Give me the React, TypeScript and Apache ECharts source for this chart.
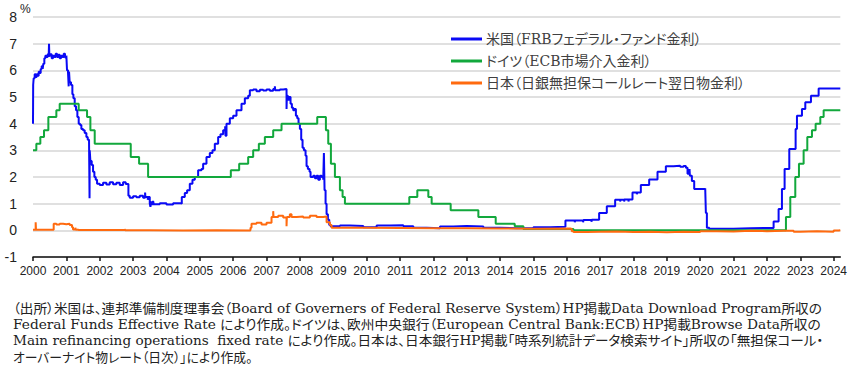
import React, { useEffect, useRef } from 'react';
import * as echarts from 'echarts';

const yearTicks = [2000, 2001, 2002, 2003, 2004, 2005, 2006, 2007, 2008, 2009, 2010, 2011, 2012, 2013, 2014, 2015, 2016, 2017, 2018, 2019, 2020, 2021, 2022, 2023, 2024];

const seriesNames = [
  '米国（FRBフェデラル・ファンド金利）',
  'ドイツ（ECB市場介入金利）',
  '日本（日銀無担保コールレート翌日物金利）',
];

// [decimal year, %] – value holds until the next point
const usFedFunds = [
  [2000.0, 4.0], [2000.005, 5.45], [2000.02, 5.7], [2000.05, 5.85], [2000.08, 5.75], [2000.11, 5.85], [2000.14, 5.8], [2000.17, 5.95], [2000.2, 5.9], [2000.23, 6.05], [2000.26, 6.15], [2000.29, 6.05], [2000.31, 6.25], [2000.34, 6.45], [2000.37, 6.55], [2000.4, 6.5], [2000.44, 6.6], [2000.47, 6.5], [2000.48, 7.0], [2000.49, 6.55], [2000.52, 6.6], [2000.56, 6.45], [2000.6, 6.55], [2000.64, 6.5], [2000.68, 6.62], [2000.72, 6.5], [2000.76, 6.58], [2000.8, 6.45], [2000.84, 6.55], [2000.88, 6.5], [2000.92, 6.62], [2000.96, 6.48], [2001.0, 6.55],
  [2001.02, 6.0], [2001.05, 5.9], [2001.07, 5.4], [2001.08, 5.95], [2001.1, 5.55], [2001.14, 5.45], [2001.18, 5.1], [2001.21, 4.95], [2001.25, 4.65], [2001.29, 4.5], [2001.33, 4.25], [2001.37, 4.0], [2001.41, 3.95], [2001.45, 3.8], [2001.5, 3.75], [2001.55, 3.65], [2001.6, 3.5], [2001.64, 3.4], [2001.68, 3.3], [2001.695, 1.2], [2001.7, 3.0], [2001.72, 2.6], [2001.76, 2.45], [2001.8, 2.2], [2001.84, 2.0], [2001.88, 1.9], [2001.92, 1.75],
  [2002.0, 1.7], [2002.1, 1.78], [2002.2, 1.72], [2002.3, 1.8], [2002.4, 1.73], [2002.5, 1.78], [2002.6, 1.7], [2002.7, 1.8], [2002.78, 1.74], [2002.86, 1.3], [2002.9, 1.22], [2003.0, 1.28], [2003.1, 1.24], [2003.2, 1.3], [2003.3, 1.22], [2003.36, 1.42], [2003.37, 1.25], [2003.44, 1.15], [2003.46, 1.25], [2003.5, 1.0], [2003.52, 0.88], [2003.54, 1.05], [2003.58, 0.95], [2003.6, 1.1], [2003.62, 0.98], [2003.8, 1.02], [2004.0, 0.97], [2004.2, 1.02], [2004.42, 1.0],
  [2004.46, 1.25], [2004.55, 1.4], [2004.62, 1.5], [2004.7, 1.75], [2004.78, 1.9], [2004.85, 2.0], [2004.95, 2.25], [2005.05, 2.3], [2005.1, 2.5], [2005.2, 2.75], [2005.3, 2.9], [2005.38, 3.0], [2005.45, 3.25], [2005.55, 3.5], [2005.62, 3.6], [2005.7, 3.75], [2005.76, 3.9], [2005.77, 3.55], [2005.8, 4.0], [2005.9, 4.2], [2006.0, 4.3], [2006.1, 4.5], [2006.25, 4.75], [2006.35, 4.95], [2006.45, 5.05],
  [2006.5, 5.25], [2006.6, 5.28], [2006.7, 5.22], [2006.8, 5.27], [2006.9, 5.24], [2007.0, 5.28], [2007.1, 5.23], [2007.2, 5.3], [2007.25, 5.4], [2007.26, 5.25], [2007.4, 5.28], [2007.5, 5.3], [2007.6, 4.55], [2007.61, 5.05], [2007.64, 4.9], [2007.68, 5.0], [2007.72, 4.75], [2007.76, 4.6], [2007.8, 4.5], [2007.84, 4.55], [2007.88, 4.3], [2007.92, 4.2], [2007.96, 4.0],
  [2008.0, 3.8], [2008.04, 3.4], [2008.08, 3.1], [2008.12, 3.0], [2008.17, 2.8], [2008.2, 2.4], [2008.24, 2.3], [2008.29, 2.2], [2008.32, 2.0], [2008.4, 2.05], [2008.45, 1.95], [2008.5, 2.05], [2008.55, 1.9], [2008.6, 2.05], [2008.65, 2.0], [2008.7, 1.9], [2008.72, 2.9], [2008.74, 1.5], [2008.77, 1.0], [2008.8, 0.6], [2008.84, 0.4], [2008.88, 0.2], [2008.92, 0.15],
  [2009.2, 0.18], [2009.5, 0.16], [2009.9, 0.12], [2010.3, 0.18], [2010.7, 0.19], [2011.1, 0.15], [2011.4, 0.1], [2011.8, 0.08], [2012.2, 0.14], [2012.6, 0.16], [2013.0, 0.14], [2013.5, 0.1], [2014.0, 0.08], [2014.5, 0.09], [2015.0, 0.12], [2015.5, 0.13],
  [2015.96, 0.37], [2016.24, 0.3], [2016.25, 0.37], [2016.49, 0.3], [2016.5, 0.39], [2016.74, 0.32], [2016.75, 0.4], [2016.97, 0.65], [2017.2, 0.9], [2017.45, 1.15], [2017.6, 1.08], [2017.61, 1.15], [2017.72, 1.08], [2017.73, 1.16], [2017.85, 1.08], [2017.86, 1.16], [2017.97, 1.42], [2018.1, 1.35], [2018.11, 1.42], [2018.22, 1.7], [2018.47, 1.91], [2018.72, 2.2], [2018.97, 2.4], [2019.2, 2.42], [2019.4, 2.38], [2019.5, 2.41], [2019.57, 2.35], [2019.62, 2.12], [2019.68, 2.3], [2019.69, 2.05], [2019.75, 1.85], [2019.82, 1.55], [2020.15, 1.58], [2020.17, 0.65], [2020.2, 0.1], [2020.27, 0.06], [2021.0, 0.08], [2021.5, 0.09],
  [2022.2, 0.33], [2022.35, 0.8], [2022.45, 1.55], [2022.53, 2.3], [2022.67, 3.05], [2022.86, 3.8], [2022.9, 4.3], [2023.05, 4.55], [2023.15, 4.8], [2023.32, 5.05], [2023.55, 5.32], [2024.2, 5.32],
];

const ecbRate = [
  [2000.0, 3.0], [2000.1, 3.25], [2000.22, 3.5], [2000.33, 3.75], [2000.46, 4.25], [2000.7, 4.5], [2000.8, 4.75], [2001.37, 4.5], [2001.62, 4.25], [2001.72, 3.75], [2001.85, 3.25], [2002.93, 2.75], [2003.18, 2.5], [2003.45, 2.0],
  [2005.93, 2.25], [2006.18, 2.5], [2006.45, 2.75], [2006.6, 3.0], [2006.77, 3.25], [2006.95, 3.5], [2007.2, 3.75], [2007.45, 4.0], [2008.52, 4.25], [2008.78, 3.75], [2008.85, 3.25], [2008.93, 2.5], [2009.05, 2.0], [2009.2, 1.5], [2009.28, 1.25], [2009.35, 1.0],
  [2011.28, 1.25], [2011.52, 1.5], [2011.85, 1.25], [2011.95, 1.0], [2012.52, 0.75], [2013.35, 0.5], [2013.87, 0.25], [2014.44, 0.15], [2014.7, 0.05], [2016.2, 0.0],
  [2022.57, 0.5], [2022.7, 1.25], [2022.85, 2.0], [2022.96, 2.5], [2023.1, 3.0], [2023.21, 3.5], [2023.35, 3.75], [2023.46, 4.0], [2023.6, 4.25], [2023.7, 4.5], [2024.2, 4.5],
];

const japanCall = [
  [2000.0, 0.02], [2000.08, 0.3], [2000.09, 0.02], [2000.62, 0.25], [2000.7, 0.22], [2000.8, 0.25], [2000.9, 0.23], [2001.0, 0.25], [2001.1, 0.2], [2001.17, 0.12], [2001.2, 0.03], [2001.27, 0.1], [2001.28, 0.02], [2001.35, 0.05], [2001.36, 0.01], [2002.75, 0.05], [2002.76, 0.002], [2003.5, -0.01], [2004.5, 0.0], [2005.5, -0.01],
  [2006.5, 0.01], [2006.52, 0.1], [2006.55, 0.25], [2006.7, 0.28], [2006.85, 0.22], [2007.0, 0.28], [2007.15, 0.5], [2007.2, 0.72], [2007.21, 0.5], [2007.35, 0.55], [2007.5, 0.48], [2007.6, 0.15], [2007.61, 0.5], [2007.7, 0.6], [2007.75, 0.5], [2007.9, 0.52], [2008.1, 0.48], [2008.3, 0.55], [2008.5, 0.5], [2008.7, 0.52], [2008.8, 0.3], [2008.9, 0.2], [2008.95, 0.1],
  [2010.0, 0.09], [2011.0, 0.08], [2012.0, 0.08], [2013.0, 0.07], [2014.0, 0.06], [2015.0, 0.07], [2016.1, 0.05], [2016.15, -0.03], [2016.2, -0.06], [2016.6, -0.05], [2017.0, -0.04], [2017.5, -0.06], [2018.0, -0.05], [2018.5, -0.07], [2019.0, -0.05], [2019.5, -0.06], [2020.0, -0.03], [2020.5, -0.04], [2021.0, -0.02], [2021.5, -0.03], [2022.0, -0.02], [2022.5, -0.02], [2022.8, -0.05], [2023.0, -0.03], [2023.5, -0.05], [2024.0, -0.01], [2024.15, 0.0], [2024.2, 0.02],
];

const footnotes = [
  '（出所）米国は、連邦準備制度理事会（Board of Governers of Federal Reserve System）HP掲載Data Download Program所収の',
  'Federal Funds Effective Rate により作成。ドイツは、欧州中央銀行（European Central Bank:ECB）HP掲載Browse Data所収の',
  'Main refinancing operations  fixed rate により作成。日本は、日本銀行HP掲載「時系列統計データ検索サイト」所収の「無担保コール・',
  'オーバーナイト物レート（日次）」により作成。',
];

// layout: rendered width of each footnote line in the reference
const footnoteWidths = [810, 809, 811, 240];

const colors = ['#0a0af5', '#12a83c', '#ff6a0f'];
const serifFont = "'DejaVu Serif', 'Noto Sans CJK JP', serif";
const sansFont = "'Liberation Sans', Arial, sans-serif";
const FOOT_SIZE = 13;

function measureText(text: string, size: number, family: string): number {
  const span = document.createElement('span');
  span.style.font = `${size}px ${family}`;
  span.style.fontFeatureSettings = '"palt" 1';
  span.style.whiteSpace = 'pre';
  span.style.position = 'absolute';
  span.style.visibility = 'hidden';
  span.textContent = text;
  document.body.appendChild(span);
  const w = span.getBoundingClientRect().width;
  span.remove();
  return w || 1;
}

export default function App() {
  const ref = useRef<HTMLDivElement>(null);
  useEffect(() => {
    document.body.style.margin = '0';
    const chart = echarts.init(ref.current!, null, { renderer: 'svg' });
    const seriesData = [usFedFunds, ecbRate, japanCall];
    chart.setOption({
      animation: false,
      backgroundColor: '#ffffff',
      grid: { left: 33, right: 9, top: 17, bottom: 116 },
      legend: {
        orient: 'vertical',
        left: 451,
        top: 32,
        padding: 0,
        itemWidth: 31,
        itemHeight: 3,
        itemGap: 8,
        icon: 'rect',
        data: seriesNames,
        textStyle: { fontSize: 14, color: '#404040', fontFamily: serifFont, padding: [0, 0, 0, -1] },
      },
      xAxis: {
        type: 'value',
        min: 2000,
        max: 2024.2,
        interval: 1,
        axisLine: { onZero: false, lineStyle: { color: '#111', width: 1.5 } },
        axisTick: { show: true, length: 4, lineStyle: { color: '#111', width: 1.5 }, customValues: yearTicks },
        axisLabel: { customValues: yearTicks, formatter: (v: number) => String(Math.round(v)), fontSize: 12, color: '#222', fontFamily: sansFont, margin: 8 },
        splitLine: { show: false },
      },
      yAxis: {
        type: 'value',
        min: -1,
        max: 8,
        interval: 1,
        axisLine: { show: false },
        axisTick: { show: false },
        axisLabel: { fontSize: 14, color: '#222', fontFamily: sansFont, margin: 16 },
        splitLine: { lineStyle: { color: '#d6d6d6', width: 1.5 } },
      },
      graphic: [
        { type: 'text', left: 20, top: 3, style: { text: '%', fontSize: 12, fill: '#222', fontFamily: sansFont } },
        ...footnotes.map((t, i) => {
          const natural = measureText(t, FOOT_SIZE, serifFont);
          const s = Math.min(1.25, Math.max(0.8, footnoteWidths[i] / natural));
          return {
            type: 'text',
            x: 13,
            y: 302 + i * 16.2,
            scaleX: s,
            style: { text: t, fontSize: FOOT_SIZE, fill: '#222', fontFamily: serifFont, verticalAlign: 'top', align: 'left' },
          };
        }),
      ],
      series: seriesNames.map((name, i) => ({
        name,
        type: 'line',
        step: 'end',
        showSymbol: false,
        symbol: 'none',
        data: seriesData[i],
        lineStyle: { color: colors[i], width: 2 },
        itemStyle: { color: colors[i] },
        z: 2 + i,
      })),
    });
    return () => chart.dispose();
  }, []);
  return (
    <div
      ref={ref}
      style={{ width: 850, height: 373, position: 'absolute', left: 0, top: 0, fontFeatureSettings: '"palt" 1' }}
    />
  );
}
